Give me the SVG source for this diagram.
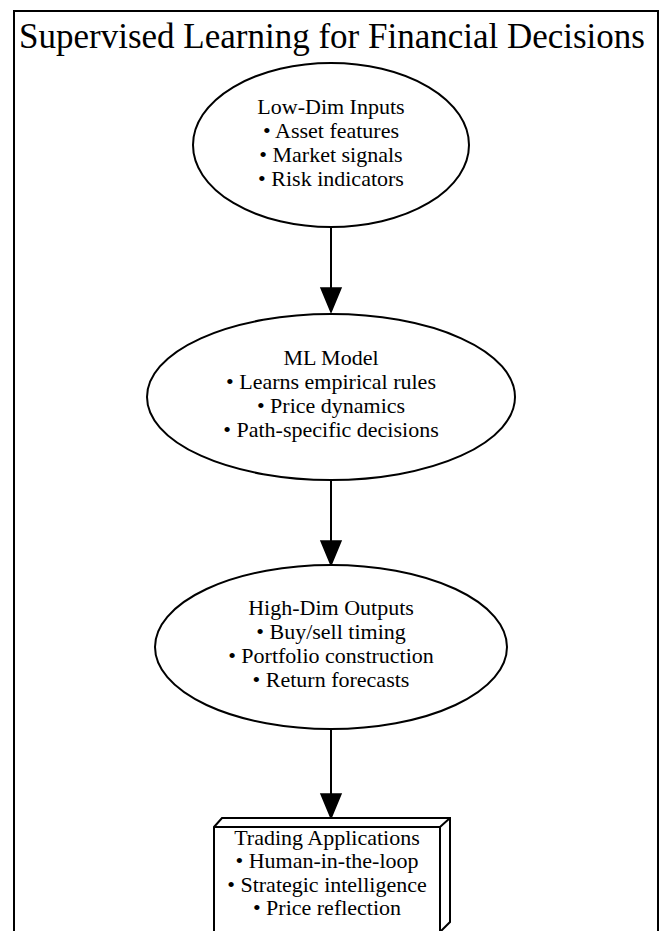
<svg xmlns="http://www.w3.org/2000/svg" width="662" height="931" viewBox="0 0 662 931">
<style>
.t{font-family:"Liberation Serif","Times New Roman",serif;font-size:22px;fill:#000;text-anchor:middle}
.title{font-family:"Liberation Serif","Times New Roman",serif;font-size:35px;fill:#000;text-anchor:middle}
.n{fill:#fff;stroke:#000;stroke-width:2}
.e{stroke:#000;stroke-width:2;fill:none}
.h{fill:#000;stroke:#000;stroke-width:1.5}
</style>
<rect x="0" y="0" width="662" height="931" fill="#fff"/>
<rect x="14" y="11" width="644" height="940" fill="#fff" stroke="#000" stroke-width="2"/>
<text class="title" x="332" y="48">Supervised Learning for Financial Decisions</text>
<g id="connectors">
<line class="e" x1="331" y1="227" x2="331" y2="288"/>
<polygon class="h" points="321,288 341,288 331,312"/>
<line class="e" x1="331" y1="480" x2="331" y2="541"/>
<polygon class="h" points="321,541 341,541 331,565"/>
<line class="e" x1="331" y1="730" x2="331" y2="794"/>
<polygon class="h" points="321,794 341,794 331,818"/>
</g>
<g id="inputs">
<ellipse class="n" cx="331" cy="145" rx="138" ry="82"/>
<text class="t" x="331" y="114">Low-Dim Inputs</text>
<text class="t" x="331" y="138">• Asset features</text>
<text class="t" x="331" y="162">• Market signals</text>
<text class="t" x="331" y="186">• Risk indicators</text>
</g>
<g id="model">
<ellipse class="n" cx="331" cy="397" rx="184" ry="83"/>
<text class="t" x="331" y="365">ML Model</text>
<text class="t" x="331" y="389">• Learns empirical rules</text>
<text class="t" x="331" y="413">• Price dynamics</text>
<text class="t" x="331" y="437">• Path-specific decisions</text>
</g>
<g id="outputs">
<ellipse class="n" cx="331" cy="647" rx="176" ry="82"/>
<text class="t" x="331" y="615">High-Dim Outputs</text>
<text class="t" x="331" y="639">• Buy/sell timing</text>
<text class="t" x="331" y="663">• Portfolio construction</text>
<text class="t" x="331" y="687">• Return forecasts</text>
</g>
<g id="trading">
<polygon class="n" points="214,827 222,818 450,818 450,922 440,932 214,932"/>
<polyline class="e" points="214,827 440,827 450,818"/>
<line class="e" x1="440" y1="827" x2="440" y2="932"/>
<text class="t" x="327" y="845">Trading Applications</text>
<text class="t" x="327" y="868">• Human-in-the-loop</text>
<text class="t" x="327" y="892">• Strategic intelligence</text>
<text class="t" x="327" y="915">• Price reflection</text>
</g>
</svg>
